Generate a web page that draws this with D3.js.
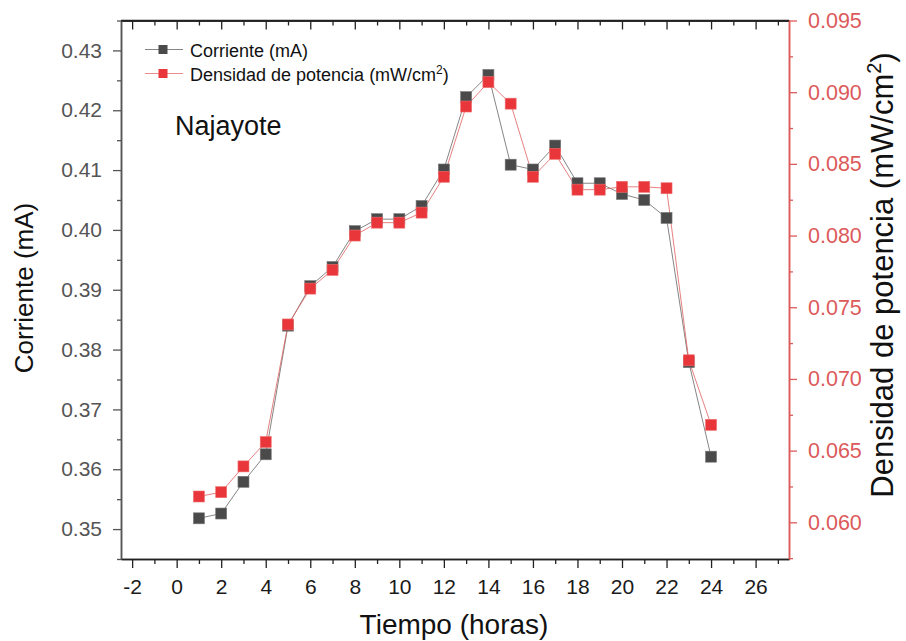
<!DOCTYPE html>
<html>
<head>
<meta charset="utf-8">
<script src="https://cdn.jsdelivr.net/npm/d3@7"></script>
<style>
  body { margin: 0; background: #fff; }
  text { font-family: "Liberation Sans", Arial, sans-serif; }
</style>
</head>
<body>
<div id="chart"></div>
<script>
// data
const hours = [1, 2, 3, 4, 5, 6, 7, 8, 9, 10, 11, 12, 13, 14, 15, 16, 17, 18, 19, 20, 21, 22, 23, 24]
const corriente = [0.3518, 0.3526, 0.3579, 0.3625, 0.3840, 0.3906, 0.3938, 0.3998, 0.4018, 0.4018, 0.4040, 0.4101,
  0.4222, 0.4259, 0.4109, 0.4101, 0.4141, 0.4078, 0.4078, 0.4060, 0.4050, 0.4020, 0.3779, 0.3621]
const densidad = [0.0618, 0.0621, 0.0639, 0.0656, 0.0738, 0.0763, 0.0776, 0.0800, 0.0809, 0.0809, 0.0816, 0.0841,
  0.0890, 0.0907, 0.0892, 0.0841, 0.0857, 0.0832, 0.0832, 0.0834, 0.0834, 0.0833, 0.0713, 0.0668]
const xTicks = [-2, 0, 2, 4, 6, 8, 10, 12, 14, 16, 18, 20, 22, 24, 26]
const leftTicks = [0.35, 0.36, 0.37, 0.38, 0.39, 0.40, 0.41, 0.42, 0.43]
const rightTicks = [0.060, 0.065, 0.070, 0.075, 0.080, 0.085, 0.090, 0.095]

const width = 906
const height = 641
const mLeft = 121, mRight = 789, mTop = 20.5, mBottom = 559

const grayCol = '#4a4a4a'
const redCol = '#e8363b'
const axisRed = '#dc5a5a'

const svg = d3.select('#chart').append('svg')
  .attr('width', width)
  .attr('height', height)

const x = d3.scaleLinear().domain([-2.5, 27.5]).range([mLeft, mRight])
const yL = d3.scaleLinear().domain([0.345, 0.435]).range([mBottom, mTop])
const yR = d3.scaleLinear().domain([0.06 - (mBottom - 522.3) / 14340, 0.095]).range([mBottom, mTop])

// minor ticks first
const minorX = d3.range(-2, 28, 1).filter(d => d % 2 !== 0)
svg.append('g').attr('transform', 'translate(0,' + mBottom + ')')
  .call(d3.axisBottom(x).tickValues(minorX).tickSize(5).tickSizeOuter(0).tickFormat(''))
svg.append('g').attr('transform', 'translate(0,' + mTop + ')')
  .call(d3.axisBottom(x).tickValues(minorX).tickSize(5).tickSizeOuter(0).tickFormat(''))
svg.append('g').attr('transform', 'translate(0,' + mTop + ')')
  .call(d3.axisBottom(x).tickValues(xTicks).tickSize(9).tickSizeOuter(0).tickFormat(''))

const minorL = d3.range(0.345, 0.436, 0.01)
svg.append('g').attr('class', 'lax').attr('transform', 'translate(' + mLeft + ',0)')
  .call(d3.axisLeft(yL).tickValues(minorL).tickSize(4).tickSizeOuter(0).tickFormat(''))
const minorR = d3.range(0.0575, 0.095, 0.005)
svg.append('g').attr('class', 'rax').attr('transform', 'translate(' + mRight + ',0)')
  .call(d3.axisRight(yR).tickValues(minorR).tickSize(4).tickSizeOuter(0).tickFormat(''))

// main axes
const gx = svg.append('g').attr('transform', 'translate(0,' + mBottom + ')')
  .call(d3.axisBottom(x).tickValues(xTicks).tickSize(9).tickSizeOuter(0).tickPadding(11).tickFormat(d => String(d)))
gx.selectAll('text').attr('font-size', 21).attr('fill', '#1a1a1a')

const gl = svg.append('g').attr('class', 'lax').attr('transform', 'translate(' + mLeft + ',0)')
  .call(d3.axisLeft(yL).tickValues(leftTicks).tickSize(8).tickSizeOuter(0).tickPadding(11).tickFormat(d3.format('.2f')))
gl.selectAll('text').attr('font-size', 21).attr('fill', '#555')

const gr = svg.append('g').attr('class', 'rax').attr('transform', 'translate(' + mRight + ',0)')
  .call(d3.axisRight(yR).tickValues(rightTicks).tickSize(8).tickSizeOuter(0).tickPadding(11).tickFormat(d3.format('.3f')))
gr.selectAll('text').attr('font-size', 21.5).attr('fill', axisRed)

// top frame line
svg.append('line').attr('x1', mLeft).attr('x2', mRight).attr('y1', mTop).attr('y2', mTop)
  .attr('stroke', '#222').attr('stroke-width', 1.5)

svg.selectAll('.domain').attr('stroke-width', 1.5)
svg.selectAll('.tick line').attr('stroke-width', 1.3)
svg.selectAll('g').filter(function () { return !this.classList.contains('lax') && !this.classList.contains('rax') })
  .selectAll('.domain, .tick line').attr('stroke', '#222')
svg.selectAll('.lax').selectAll('.domain, .tick line').attr('stroke', '#555')
svg.selectAll('.rax').selectAll('.domain, .tick line').attr('stroke', axisRed)

// series
const lineL = d3.line().x((d, i) => x(hours[i])).y(d => yL(d))
const lineR = d3.line().x((d, i) => x(hours[i])).y(d => yR(d))
const ms = 11

svg.append('path').datum(corriente).attr('d', lineL)
  .attr('fill', 'none').attr('stroke', '#666').attr('stroke-width', 0.8)
svg.append('path').datum(densidad).attr('d', lineR)
  .attr('fill', 'none').attr('stroke', '#e06060').attr('stroke-width', 0.8)

svg.selectAll('.pg').data(corriente).enter().append('rect')
  .attr('class', 'pg')
  .attr('x', (d, i) => x(hours[i]) - ms / 2)
  .attr('y', d => yL(d) - ms / 2)
  .attr('width', ms).attr('height', ms)
  .attr('fill', grayCol).attr('stroke', '#777').attr('stroke-width', 0.6)

svg.selectAll('.pr').data(densidad).enter().append('rect')
  .attr('class', 'pr')
  .attr('x', (d, i) => x(hours[i]) - ms / 2)
  .attr('y', d => yR(d) - ms / 2)
  .attr('width', ms).attr('height', ms)
  .attr('fill', redCol).attr('stroke', '#f07070').attr('stroke-width', 0.6)

// legend
const legend = [
  { name: 'Corriente (mA)', fill: grayCol, line: '#777' },
  { name: 'Densidad de potencia (mW/cm', sup: '2', fill: redCol, line: '#e88080' }
]
legend.forEach(function (d, i) {
  const ly = 49.5 + i * 24
  svg.append('line').attr('x1', 145).attr('x2', 183).attr('y1', ly).attr('y2', ly)
    .attr('stroke', d.line).attr('stroke-width', 0.9)
  svg.append('rect').attr('x', 158.5).attr('y', ly - 4.5).attr('width', 9).attr('height', 9)
    .attr('fill', d.fill)
  const t = svg.append('text').attr('x', 190).attr('y', ly + 7).attr('font-size', 18).attr('fill', '#111')
    .text(d.name)
  if (d.sup) {
    t.append('tspan').attr('font-size', 12).attr('dy', -7).text(d.sup)
    t.append('tspan').attr('dy', 7).text(')')
  }
})

svg.append('text').attr('x', 175).attr('y', 135).attr('font-size', 27).attr('fill', '#111').text('Najayote')

// axis titles
svg.append('text').attr('x', 454).attr('y', 634).attr('text-anchor', 'middle')
  .attr('font-size', 28).attr('fill', '#111').text('Tiempo (horas)')
svg.append('text').attr('transform', 'translate(33,288) rotate(-90)').attr('text-anchor', 'middle')
  .attr('font-size', 26).attr('fill', '#111').text('Corriente (mA)')
const rt = svg.append('text').attr('transform', 'translate(893,275) rotate(-90)').attr('text-anchor', 'middle')
  .attr('font-size', 31).attr('fill', '#111').text('Densidad de potencia (mW/cm')
rt.append('tspan').attr('font-size', 20).attr('dy', -12).text('2')
rt.append('tspan').attr('dy', 12).text(')')
</script>
</body>
</html>
